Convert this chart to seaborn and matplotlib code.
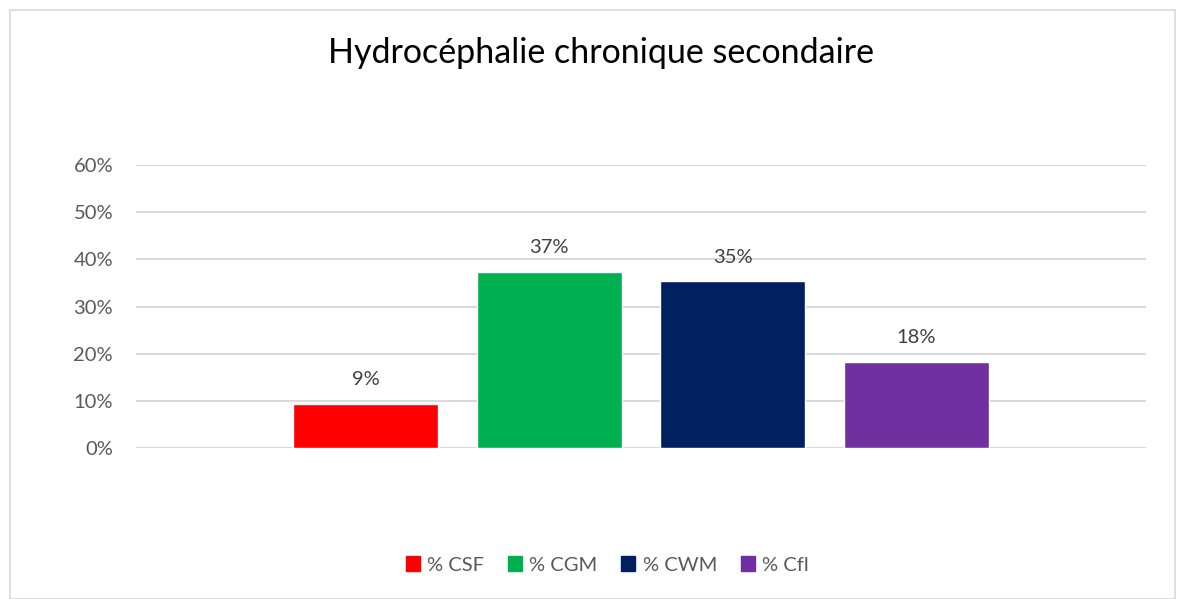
import matplotlib
matplotlib.use("Agg")
import matplotlib.pyplot as plt
import matplotlib.patches as mpatches
import seaborn as sns
import pandas as pd

# data
categories = ["% CSF", "% CGM", "% CWM", "% Cfl"]
values = [0.094, 0.374, 0.354, 0.183]
colors = ["#ff0000", "#00b050", "#002060", "#7030a0"]
yticks = [0.0, 0.1, 0.2, 0.3, 0.4, 0.5, 0.6]
title = "Hydrocéphalie chronique secondaire"

df = pd.DataFrame({"cat": categories, "val": values})

sns.set_theme(style="white")
plt.rcParams["font.family"] = ["Lato", "DejaVu Sans"]

fig = plt.figure(figsize=(11.86, 5.99), dpi=100)
ax = fig.add_axes([136 / 1186, 1 - 448 / 599, 1010 / 1186, 283 / 599])

sns.barplot(data=df, x="cat", y="val", hue="cat", palette=colors,
            width=0.79, ax=ax, legend=False, saturation=1)

ax.set_xlim(-1.25, 4.25)
ax.set_ylim(0, 0.6)
ax.set_yticks(yticks)
ax.set_yticklabels([f"{t:.0%}" for t in yticks], fontsize=14.5, color="#595959")
ax.tick_params(axis="y", length=0, pad=16.5)
ax.set_xticks([])
ax.set_xlabel("")
ax.set_ylabel("")
ax.grid(axis="y", color="#d9d9d9", linewidth=1.5)
ax.set_axisbelow(True)
for s in ax.spines.values():
    s.set_visible(False)

for i, v in enumerate(values):
    ax.annotate(f"{v:.0%}", (i, v), xytext=(0, 11), textcoords="offset points",
                ha="center", va="bottom", fontsize=14.5, color="#404040")

handles = [mpatches.Patch(color=c, label=l) for c, l in zip(colors, categories)]
fig.legend(handles=handles, loc="center", bbox_to_anchor=(0.512, 1 - 565 / 599),
           ncol=4, frameon=False, fontsize=14.5, handlelength=0.7, handleheight=0.7,
           handletextpad=0.35, columnspacing=1.2, labelcolor="#595959")

fig.text(0.507, 1 - 53 / 599, title, ha="center", va="center", fontsize=24.5, color="#000000")

# chart frame
fig.patches.append(mpatches.Rectangle((10 / 1186, 0), 1165 / 1186, 1 - 10 / 599,
                                      transform=fig.transFigure, fill=False,
                                      edgecolor="#d9d9d9", linewidth=1.2))

fig.savefig("out.png", dpi=100)
